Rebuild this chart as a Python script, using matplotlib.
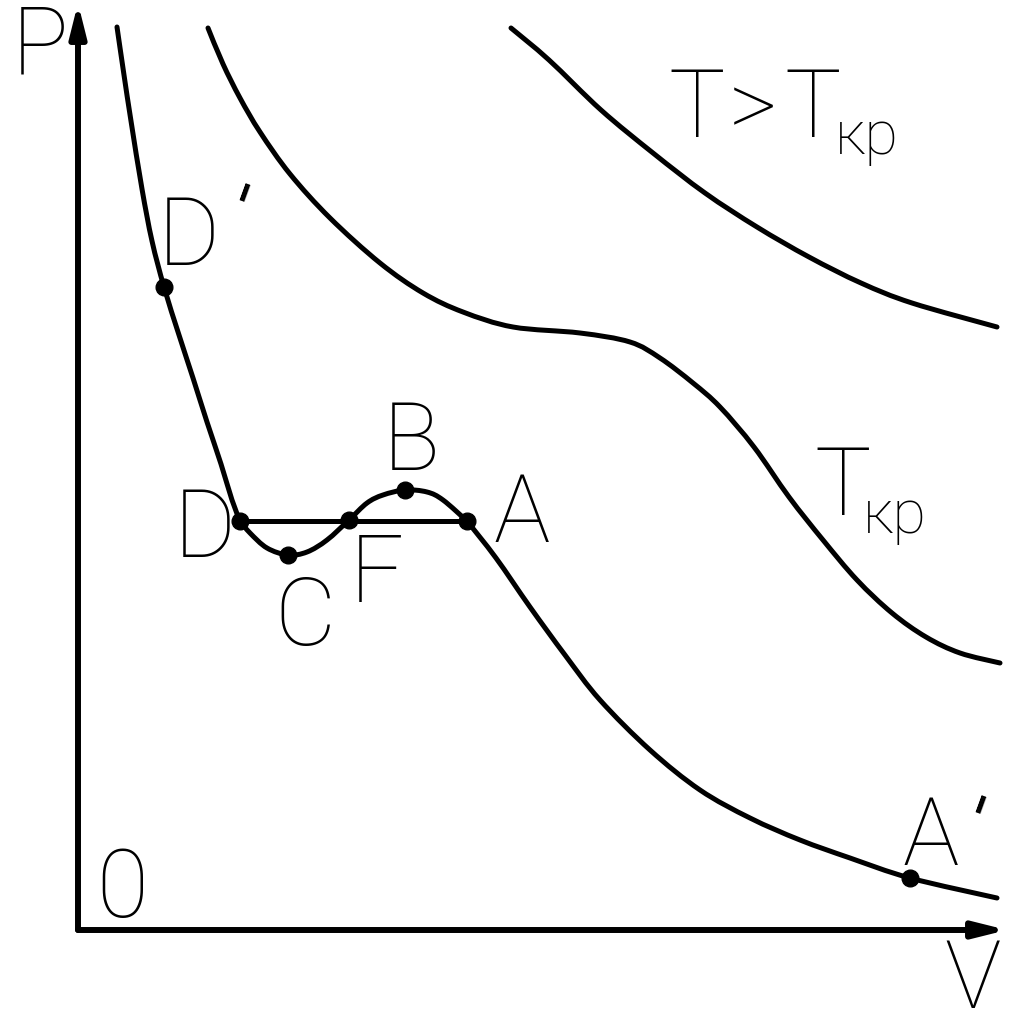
import matplotlib
matplotlib.use("Agg")
import numpy as np
import matplotlib.pyplot as plt
from matplotlib.path import Path
from matplotlib.patches import PathPatch

plt.rcParams['font.family'] = ['Roboto', 'DejaVu Sans']

# isotherm below T_kr (V, P, arbitrary units)
low_v = [39, 46, 53, 64, 74, 86, 101, 115, 129, 143, 154, 162,
         172, 189, 210, 229, 249, 271, 289, 305, 327, 349, 365, 389,
         418, 452, 487, 522, 572, 622, 672, 722, 772, 832, 919]
low_p = [903, 855, 809, 741, 689, 643, 595, 552, 508, 466, 430, 409,
         397, 382, 375, 378, 390, 410, 427, 435, 440, 438, 430, 409,
         372, 323, 275, 230, 180, 140, 112, 90, 72, 52, 32]

# critical isotherm
crit_v = [130, 145, 162, 182, 212, 252, 302, 345, 385, 435, 502, 552,
          582, 615, 642, 676, 711, 745, 779, 814, 848, 882, 922]
crit_p = [902, 866, 832, 798, 756, 712, 667, 637, 618, 603, 597, 588,
          572, 547, 523, 483, 433, 390, 350, 317, 293, 277, 267]

# isotherm above T_kr
high_v = [433, 471, 523, 575, 627, 679, 731, 783, 834, 919]
high_p = [902, 870, 820, 777, 737, 703, 673, 647, 627, 603]

# marked states
pt_names = ["D'", "D", "C", "F", "B", "A", "A'"]
pt_v = [86, 162, 210, 271, 327, 389, 832]
pt_p = [643, 409, 375, 410, 440, 409, 52]

# horizontal D-A (equilibrium line)
line_v = [162, 389]
line_p = [409, 409]


def smooth(ax, xs, ys, lw=3.6):
    # draw a smooth curve through the points (catmull-rom as bezier)
    pts = np.column_stack([xs, ys]).astype(float)
    n = len(pts)
    verts = [pts[0]]
    codes = [Path.MOVETO]
    for i in range(n - 1):
        p0 = pts[i - 1] if i > 0 else pts[i]
        p1 = pts[i]
        p2 = pts[i + 1]
        p3 = pts[i + 2] if i + 2 < n else pts[i + 1]
        verts += [p1 + (p2 - p0) / 6, p2 - (p3 - p1) / 6, p2]
        codes += [Path.CURVE4] * 3
    ax.add_patch(PathPatch(Path(verts, codes), fill=False, lw=lw,
                           edgecolor='black', capstyle='round'))


fig = plt.figure(figsize=(10.24, 10.24), dpi=100)
ax = fig.add_axes([0, 0, 1, 1])
ax.set_xlim(-78, 946)
ax.set_ylim(-94, 930)
ax.axis('off')

# axes with arrows
arr = dict(arrowstyle='-|>,head_length=0.8,head_width=0.2', lw=4.3,
           color='black', mutation_scale=24, shrinkA=0, shrinkB=0)
ax.annotate("", xy=(0, 927), xytext=(0, 0), arrowprops=arr)
ax.annotate("", xy=(929, 0), xytext=(0, 0), arrowprops=arr)

iD = low_v.index(162)
iA = low_v.index(389)
smooth(ax, low_v[:iD + 1], low_p[:iD + 1])
smooth(ax, low_v[iD:iA + 1], low_p[iD:iA + 1])
smooth(ax, low_v[iA:], low_p[iA:])
smooth(ax, crit_v, crit_p)
smooth(ax, high_v, high_p)
ax.plot(line_v, line_p, color='black', lw=3.6)
ax.plot(pt_v, pt_p, 'o', color='black', markersize=12, linestyle='none')

big = dict(fontsize=68, fontweight='light', color='black', va='baseline', ha='left')
small = dict(fontsize=44, fontweight='light', color='black', va='baseline', ha='left')
# prime mark: a thin slanted apostrophe
prime = dict(fontsize=56, fontweight='normal', color='black', va='baseline',
             ha='left', rotation=-20, rotation_mode='anchor')

ax.text(-66, 857, "P", **big)
ax.text(866, -78, "V", **big)
ax.text(18, 13, "0", **big)

ax.text(80, 665, "D", **big)
ax.text(143, 692, "'", **prime)
ax.text(96, 373, "D", **big)
ax.text(196, 285, "C", **big)
ax.text(272, 328, "F", **big)
ax.text(305, 460, "B", **big)
ax.text(415, 388, "A", **big)
ax.text(824, 65, "A", **big)
ax.text(879, 80, "'", **prime)

ax.text(590, 793, "T", **big)
ax.text(651, 793, ">", **big)
ax.text(706, 793, "T", **big)
ax.text(757, 776, "кр", **small)
ax.text(736, 415, "T", **big)
ax.text(785, 397, "кр", **small)

plt.savefig("out.png", dpi=100)
